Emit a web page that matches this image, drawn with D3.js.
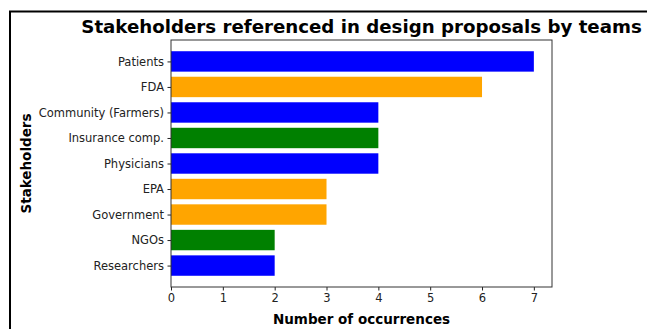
<!DOCTYPE html>
<html>
<head>
<meta charset="utf-8">
<script src="https://cdn.jsdelivr.net/npm/d3@7"></script>
<style>
  body { margin: 0; background: #fff; }
  svg { display: block; }
</style>
</head>
<body>
<script>
// data, top to bottom as drawn
var stakeholders = ["Patients", "FDA", "Community (Farmers)", "Insurance comp.", "Physicians", "EPA", "Government", "NGOs", "Researchers"]
var counts = [7, 6, 4, 4, 4, 3, 3, 2, 2]
var barColors = ["blue", "orange", "blue", "green", "blue", "orange", "orange", "green", "blue"]
var xTicks = [0, 1, 2, 3, 4, 5, 6, 7]

var width = 647, height = 329
var margin = {top: 40, right: 95, bottom: 42, left: 171}

const svg = d3.select("body").append("svg")
    .attr("width", width)
    .attr("height", height)
    .attr("font-family", "DejaVu Sans, sans-serif")

// figure frame (top and left edges visible)
svg.append("path")
    .attr("d", `M9,11.5 H${width} M10,11 V${height}`)
    .attr("stroke", "#000")
    .attr("stroke-width", 2)
    .attr("fill", "none")

// matplotlib-style limits: bars of 0.8 at integer positions, 5% margins
var n = stakeholders.length
var span = (n - 1) + 0.8
var pad = span * 0.05
xScale = d3.scaleLinear()
    .domain([0, d3.max(counts) * 1.05])
    .range([margin.left, width - margin.right])
yScale = d3.scaleLinear()
    .domain([-0.4 - pad, n - 1 + 0.4 + pad])
    .range([margin.top, height - margin.bottom])

// bars
svg.append("g")
    .selectAll("rect")
    .data(counts)
    .join("rect")
        .attr("x", xScale(0))
        .attr("y", (d, i) => yScale(i - 0.4))
        .attr("width", d => xScale(d) - xScale(0))
        .attr("height", yScale(0.8) - yScale(0))
        .attr("fill", (d, i) => barColors[i])

// axes
xAxis = g => g
    .attr("transform", `translate(0,${height - margin.bottom})`)
    .call(d3.axisBottom(xScale).tickValues(xTicks).tickFormat(d3.format("d")).tickSizeOuter(0).tickSize(3.5).tickPadding(3.5))
    .call(g => g.select(".domain").remove())
yAxis = g => g
    .attr("transform", `translate(${margin.left},0)`)
    .call(d3.axisLeft(yScale).tickValues(d3.range(n)).tickFormat(i => stakeholders[i]).tickSize(3.5).tickPadding(3.5))
    .call(g => g.select(".domain").remove())

svg.append("g").call(xAxis)
svg.append("g").call(yAxis)
svg.selectAll(".tick text").attr("font-size", 11.5).attr("fill", "#222").attr("font-family", "DejaVu Sans, sans-serif")
svg.selectAll(".tick line").attr("stroke", "#222")

// axes box
svg.append("rect")
    .attr("x", margin.left)
    .attr("y", margin.top)
    .attr("width", width - margin.right - margin.left)
    .attr("height", height - margin.bottom - margin.top)
    .attr("fill", "none")
    .attr("stroke", "#333")
    .attr("stroke-width", 1)

// title and labels
svg.append("text")
    .attr("x", (margin.left + width - margin.right) / 2)
    .attr("y", 33)
    .attr("text-anchor", "middle")
    .attr("font-size", 18.2)
    .attr("font-weight", "bold")
    .text("Stakeholders referenced in design proposals by teams")
svg.append("text")
    .attr("x", (margin.left + width - margin.right) / 2)
    .attr("y", 324)
    .attr("text-anchor", "middle")
    .attr("font-size", 13.5)
    .attr("font-weight", "bold")
    .text("Number of occurrences")
svg.append("text")
    .attr("transform", `translate(31,${(margin.top + height - margin.bottom) / 2}) rotate(-90)`)
    .attr("text-anchor", "middle")
    .attr("font-size", 13.5)
    .attr("font-weight", "bold")
    .text("Stakeholders")
</script>
</body>
</html>
